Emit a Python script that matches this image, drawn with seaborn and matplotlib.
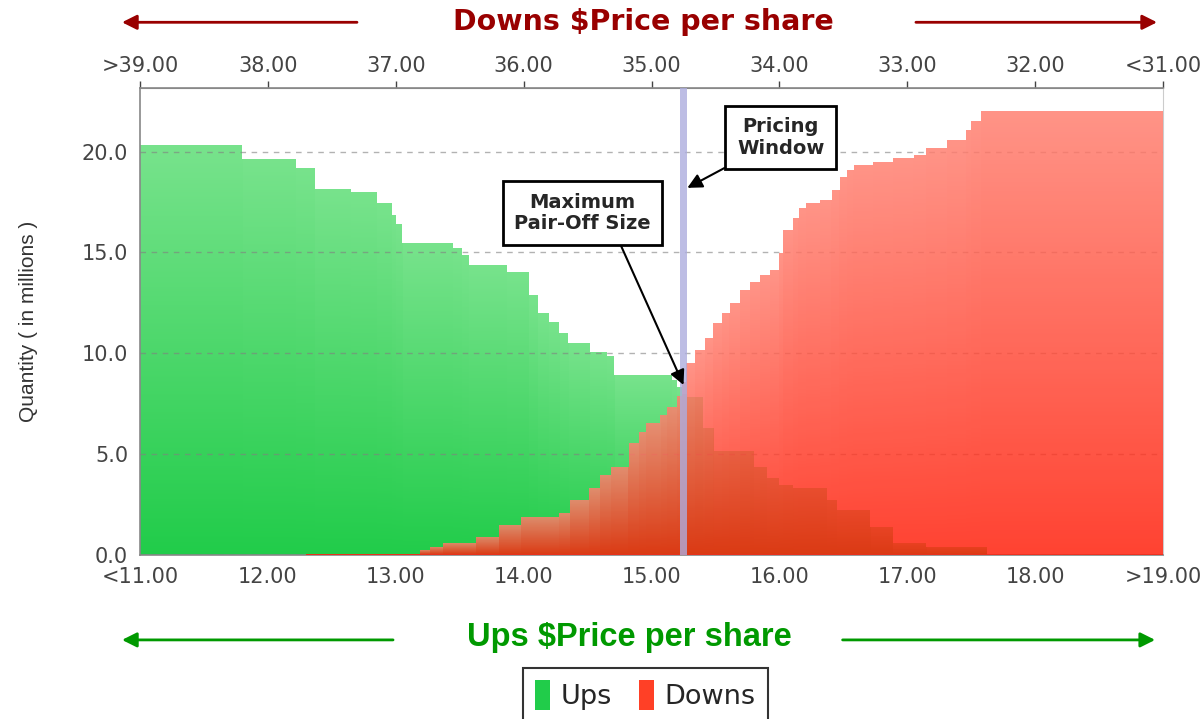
import numpy as np
import matplotlib
matplotlib.use("Agg")
import matplotlib.pyplot as plt
import seaborn as sns
import pandas as pd
from matplotlib.patches import Patch, FancyArrowPatch
from matplotlib.path import Path

# step levels of cumulative quantity (millions) between price edges
ups_edges = [11.00, 11.80, 12.22, 12.37, 12.65, 12.85, 12.97, 13.00, 13.05, 13.45,
             13.52, 13.57, 13.87, 14.04, 14.11, 14.20, 14.28, 14.35, 14.52, 14.65,
             14.71, 15.16, 15.20, 15.24, 15.28, 15.40, 15.49, 15.80, 15.90, 16.00,
             16.11, 16.37, 16.45, 16.71, 16.89, 17.15, 17.62]
ups_qty = [20.3, 19.65, 19.2, 18.15, 18.0, 17.45, 16.85, 16.4, 15.45, 15.2,
           14.85, 14.4, 14.05, 12.9, 12.0, 11.55, 11.0, 10.5, 10.08, 9.87,
           8.92, 8.68, 8.35, 8.0, 7.85, 6.3, 5.15, 4.38, 3.8, 3.47,
           3.3, 2.73, 2.23, 1.4, 0.58, 0.41]

downs_edges = [12.30, 13.19, 13.27, 13.37, 13.63, 13.81, 13.98, 14.28, 14.36, 14.51,
               14.60, 14.68, 14.82, 14.90, 14.96, 15.07, 15.12, 15.20, 15.24, 15.27,
               15.34, 15.42, 15.48, 15.55, 15.61, 15.69, 15.77, 15.85, 15.93, 16.00,
               16.03, 16.11, 16.15, 16.21, 16.32, 16.41, 16.47, 16.53, 16.58, 16.73,
               16.89, 17.05, 17.15, 17.31, 17.46, 17.50, 17.58, 19.00]
downs_qty = [0.07, 0.25, 0.41, 0.61, 0.91, 1.49, 1.87, 2.07, 2.73, 3.30,
             3.97, 4.38, 5.54, 6.11, 6.53, 6.94, 7.35, 7.9, 8.6, 9.5,
             10.16, 10.74, 11.49, 11.98, 12.48, 13.14, 13.55, 13.88, 14.13, 14.96,
             16.11, 16.69, 17.19, 17.44, 17.6, 18.1, 18.76, 19.09, 19.34, 19.5,
             19.67, 19.83, 20.16, 20.55, 21.07, 21.5, 22.0]

bottom_ticks = [11, 12, 13, 14, 15, 16, 17, 18, 19]
bottom_labels = ["<11.00", "12.00", "13.00", "14.00", "15.00", "16.00", "17.00", "18.00", ">19.00"]
top_ticks = [39, 38, 37, 36, 35, 34, 33, 32, 31]
top_labels = [">39.00", "38.00", "37.00", "36.00", "35.00", "34.00", "33.00", "32.00", "<31.00"]

pricing_window = 15.25
max_pairoff = 8.43

sns.set_style("white")
plt.rcParams['font.family'] = ['DejaVu Sans']

GREEN_TOP = (0.47, 0.89, 0.55)
GREEN_BOT = (0.13, 0.80, 0.29)
RED_TOP = (1.0, 0.50, 0.44)
RED_BOT = (1.0, 0.12, 0.04)
TICK_COL = "#444444"
YMAX = 23.15


def gradient_bars(ax, edges, qty, top, bottom, alpha, z):
    e = np.asarray(edges)
    df = pd.DataFrame({"price": (e[:-1] + e[1:]) / 2, "qty": qty})
    n0 = len(ax.patches)
    sns.histplot(data=df, x="price", weights="qty", bins=list(edges), ax=ax, stat="count",
                 element="bars", fill=True, linewidth=0, color=bottom)
    bars = ax.patches[n0:]
    # each bar shaded from its base to its own top
    xs = np.linspace(e[0], e[-1], 1600)
    heights = np.zeros_like(xs)
    for p in bars:
        sel = (xs >= p.get_x()) & (xs <= p.get_x() + p.get_width())
        heights[sel] = p.get_height()
    ys = np.linspace(0, YMAX, 900)
    t = np.clip(ys[:, None] / np.maximum(heights[None, :], 1e-6), 0, 1)[..., None]
    img = np.asarray(bottom) * (1 - t) + np.asarray(top) * t
    im = ax.imshow(img, extent=[e[0], e[-1], 0, YMAX], origin="lower", aspect="auto",
                   alpha=alpha, zorder=z, interpolation="nearest")
    clip = Path.make_compound_path(*[p.get_path().transformed(p.get_patch_transform())
                                     for p in bars if p.get_height() > 0])
    im.set_clip_path(clip, ax.transData)
    for p in bars:
        p.set_visible(False)


fig = plt.figure(figsize=(12.02, 7.19), dpi=100)
ax = fig.add_axes([0.1165, 0.2281, 0.8511, 0.6495])

gradient_bars(ax, ups_edges, ups_qty, GREEN_TOP, GREEN_BOT, 1.0, 2)
gradient_bars(ax, downs_edges, downs_qty, RED_TOP, RED_BOT, 0.84, 3)

ax.axvspan(pricing_window - 0.025, pricing_window + 0.03, color="#adadde", alpha=0.8, zorder=5, lw=0)

ax.set_xlim(11, 19)
ax.set_ylim(0, YMAX)
ax.set_xticks(bottom_ticks, labels=bottom_labels)
ax.set_yticks([0, 5, 10, 15, 20], labels=["0.0", "5.0", "10.0", "15.0", "20.0"])
ax.grid(axis="y", color="#808080", linestyle=(0, (4, 4)), linewidth=1, alpha=0.6, zorder=6)
ax.set_axisbelow(False)
ax.set_xlabel("")
ax.set_ylabel("Quantity ( in millions )", fontsize=15, color="#333333", family="Liberation Sans")
ax.yaxis.set_label_coords(-0.100, 0.5)
ax.tick_params(axis="both", labelsize=15, colors=TICK_COL, length=5, width=1, direction="out")
for side in ["left", "bottom", "top"]:
    ax.spines[side].set_color("#888888")
    ax.spines[side].set_linewidth(1.2)
ax.spines["right"].set_color("#cccccc")

top = ax.secondary_xaxis("top", functions=(lambda v: 50 - v, lambda v: 50 - v))
top.set_xticks(top_ticks, labels=top_labels)
top.tick_params(labelsize=15, colors=TICK_COL, length=5, width=1, direction="out")
top.spines["top"].set_color("#888888")

# annotations
box = dict(boxstyle="square,pad=0.6", fc="white", ec="black", lw=2)
ax.annotate("Pricing\nWindow", xy=(pricing_window + 0.03, 18.2), xytext=(16.01, 20.7),
            ha="center", va="center", fontsize=14, fontweight="bold", bbox=box, zorder=10,
            linespacing=1.15,
            arrowprops=dict(arrowstyle="-|>", color="black", lw=1.5, mutation_scale=22,
                            relpos=(0.08, 0.0), shrinkA=0, shrinkB=0))
ax.annotate("Maximum\nPair-Off Size", xy=(pricing_window, max_pairoff), xytext=(14.46, 16.96),
            ha="center", va="center", fontsize=14, fontweight="bold", bbox=box, zorder=10,
            linespacing=1.15,
            arrowprops=dict(arrowstyle="-|>", color="black", lw=1.5, mutation_scale=22,
                            relpos=(0.74, 0.0), shrinkA=0, shrinkB=0))

# axis titles with arrows
DRED = "#990000"
DGREEN = "#009900"
fig.text(0.535, 0.969, "Downs $Price per share", color=DRED, fontsize=20.5, fontweight="bold",
         ha="center", va="center")
arrow_r = dict(arrowstyle="-|>", color=DRED, lw=2, mutation_scale=22, shrinkA=0, shrinkB=0)
fig.patches.append(FancyArrowPatch((0.297, 0.969), (0.1015, 0.969), transform=fig.transFigure, **arrow_r))
fig.patches.append(FancyArrowPatch((0.762, 0.969), (0.9626, 0.969), transform=fig.transFigure, **arrow_r))

fig.text(0.524, 0.113, "Ups $Price per share", color=DGREEN, fontsize=23.5, fontweight="bold",
         family="Liberation Sans", ha="center", va="center")
arrow_g = dict(arrowstyle="-|>", color=DGREEN, lw=2, mutation_scale=22, shrinkA=0, shrinkB=0)
fig.patches.append(FancyArrowPatch((0.327, 0.110), (0.1015, 0.110), transform=fig.transFigure, **arrow_g))
fig.patches.append(FancyArrowPatch((0.701, 0.110), (0.961, 0.110), transform=fig.transFigure, **arrow_g))

handles = [Patch(facecolor=GREEN_BOT, edgecolor="none", label="Ups"),
           Patch(facecolor=(1.0, 0.25, 0.15), edgecolor="none", label="Downs")]
leg = fig.legend(handles=handles, loc="center", bbox_to_anchor=(0.537, 0.033), ncol=2,
                 frameon=True, fancybox=False, edgecolor="black",
                 handlelength=0.55, handleheight=1.3, handletextpad=0.4, columnspacing=1.0,
                 borderpad=0.45, prop={"family": "DejaVu Sans", "size": 19.5})
leg.get_frame().set_linewidth(1.5)

fig.savefig("out.png", dpi=100)
